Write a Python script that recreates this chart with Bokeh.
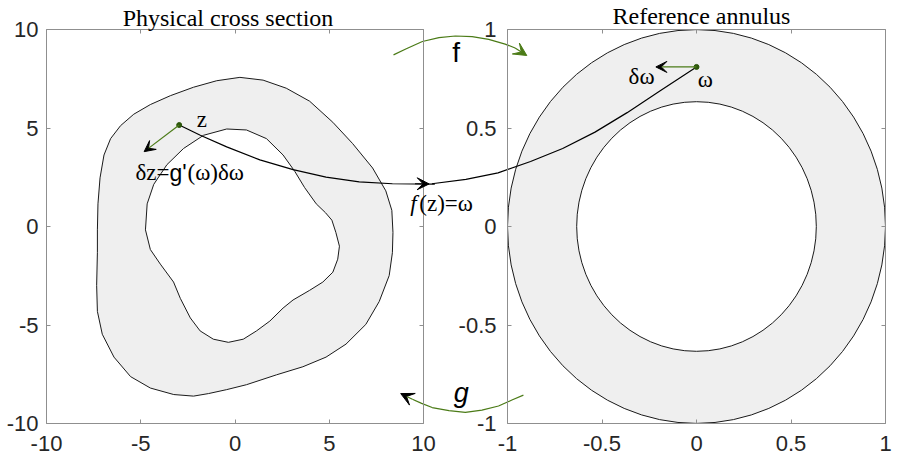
import numpy as np
from bokeh.plotting import figure
from bokeh.models import Range1d, LinearAxis, FixedTicker, Arrow, VeeHead, Label
from bokeh.embed import file_html
from bokeh.resources import INLINE

# ---------------- data ----------------
phys_xlim = [-10, 10]
phys_ylim = [-10, 10]
phys_ticks = [-10, -5, 0, 5, 10]
ref_xlim = [-1, 1]
ref_ylim = [-1, 1]
ref_ticks = [-1, -0.5, 0, 0.5, 1]
titles = ["Physical cross section", "Reference annulus"]

# physical cross-section boundaries (outer and inner)
outer_x = [-7.30, -7.27, -7.16, -6.95, -6.60, -6.07, -5.37, -4.49, -3.43, -2.20,
           -0.97, 0.26, 1.49, 2.72, 3.96, 5.19, 6.24, 7.30, 8.00, 8.32,
           8.38, 8.35, 8.18, 7.65, 6.94, 5.89, 4.83, 3.60, 2.20, 0.61,
           -0.44, -1.40, -2.20, -3.25, -4.49, -5.54, -6.42, -7.04, -7.30, -7.34, -7.30]
outer_y = [-0.17, 1.15, 2.47, 3.63, 4.46, 5.12, 5.70, 6.19, 6.64, 7.07,
           7.40, 7.57, 7.43, 7.02, 6.36, 5.29, 4.21, 2.97, 1.81, 0.82,
           -0.30, -1.33, -2.49, -3.81, -4.97, -5.97, -6.63, -7.12, -7.53, -8.03,
           -8.28, -8.48, -8.61, -8.53, -8.20, -7.62, -6.63, -5.47, -4.31, -2.99, -1.33]
inner_x = [-4.75, -4.66, -4.31, -3.61, -2.73, -1.67, -0.44, 0.61, 1.67, 2.55,
           3.17, 3.69, 4.31, 4.80, 5.14, 5.35, 5.54, 5.45, 5.19, 4.66, 3.96, 3.08,
           2.55, 1.85, 1.14, 0.44, -0.35, -1.15, -1.85, -2.37, -2.90, -3.26,
           -3.96, -4.49]
inner_y = [-0.17, 1.15, 2.14, 3.14, 3.96, 4.63, 4.95, 4.90, 4.46, 3.63,
           2.80, 1.98, 1.15, 0.70, 0.32, -0.30, -1.00, -1.66, -2.32, -2.82, -3.24, -3.73,
           -4.14, -4.80, -5.30, -5.72, -5.88, -5.72, -5.30, -4.64, -3.65, -2.82,
           -1.91, -1.17]

# reference annulus radii
annulus_outer_r = 1.0
annulus_inner_r = 0.634

# points and increments
z_point = [-2.96, 5.15]
dz_tip = [-4.82, 3.80]
w_point = [0.0, 0.81]
dw_tip = [-0.215, 0.81]

# mapping curve f(z)=w : part in physical coords, part in reference coords
map_phys_x = [-2.96, -1.84, -0.44, 1.32, 3.08, 4.83, 6.59, 8.35, 10.6]
map_phys_y = [5.15, 4.63, 4.04, 3.38, 2.89, 2.51, 2.27, 2.17, 2.15]
map_ref_x = [-1.40, -1.22, -1.05, -0.878, -0.708, -0.537, -0.367, -0.196, 0.0]
map_ref_y = [0.217, 0.239, 0.272, 0.330, 0.396, 0.479, 0.578, 0.686, 0.81]
map_head = [[9.55, 2.17], [10.3, 2.16]]

# curved arrows f and g (physical coords)
f_arc_x = [8.41, 9.06, 9.94, 10.82, 11.69, 12.58, 13.46, 14.33, 14.86]
f_arc_y = [8.71, 9.01, 9.39, 9.59, 9.67, 9.64, 9.50, 9.26, 9.06]
f_tip = [15.48, 8.68]
g_arc_x = [15.30, 14.69, 13.98, 13.10, 12.22, 11.35, 10.46, 9.90, 9.41]
g_arc_y = [-8.56, -8.81, -9.11, -9.32, -9.44, -9.35, -9.19, -8.98, -8.77]
g_tip = [8.79, -8.48]

# ---------------- layout (canvas pixels) ----------------
W, H = 893, 457
LX0, LX1 = 46, 423      # left panel box
RX0, RX1 = 507, 885     # right panel box
TY, BY = 29, 423        # top / bottom of both boxes

GREEN = "#4b7b17"
DOT = "#2c560b"
AX = "#8f8f8f"
TXT = "#262626"
SERIF = "Liberation Serif"
SANS = "Liberation Sans"
TICK_FS = "22px"
FS = 23


def full_range(lim, p0, p1, total, flip=False):
    """Range spanning the whole canvas so that lim maps to pixels p0..p1."""
    s = (p1 - p0) / (lim[1] - lim[0])
    if flip:  # vertical: pixel grows downward
        return Range1d(lim[0] - (total - p1) / s, lim[1] + p0 / s)
    return Range1d(lim[0] - p0 / s, lim[1] + (total - p1) / s)


p = figure(width=W, height=H, output_backend="svg", toolbar_location=None,
           x_axis_type=None, y_axis_type=None,
           x_range=full_range(phys_xlim, LX0, LX1, W),
           y_range=full_range(phys_ylim, TY, BY, H, flip=True),
           min_border=0, min_border_left=0, min_border_right=0,
           min_border_top=0, min_border_bottom=0)
p.extra_x_ranges = {"rx": full_range(ref_xlim, RX0, RX1, W)}
p.extra_y_ranges = {"ry": full_range(ref_ylim, TY, BY, H, flip=True)}
p.outline_line_color = None
p.background_fill_color = "white"
p.border_fill_color = "white"


def fmt(t):
    return str(int(t)) if float(t).is_integer() else str(t)


def add_axis(side, xr, yr, loc, ticks, lim, labels, standoff=8):
    ax = LinearAxis(x_range_name=xr, y_range_name=yr, fixed_location=loc,
                    bounds=(lim[0], lim[1]),
                    ticker=FixedTicker(ticks=ticks, minor_ticks=[]),
                    major_label_overrides={t: fmt(t) for t in ticks},
                    axis_line_color=AX, axis_line_width=1,
                    major_tick_line_color=AX, major_tick_in=4, major_tick_out=0,
                    minor_tick_line_color=None,
                    major_label_text_font=SANS, major_label_text_font_size=TICK_FS,
                    major_label_text_color=TXT, major_label_standoff=standoff)
    if not labels:
        ax.major_label_text_alpha = 0
    p.add_layout(ax, side)


# left panel box
add_axis("left", "default", "default", phys_xlim[0], phys_ticks, phys_ylim, True, 8)
add_axis("right", "default", "default", phys_xlim[1], phys_ticks, phys_ylim, False)
add_axis("below", "default", "default", phys_ylim[0], phys_ticks, phys_xlim, True, 12)
add_axis("above", "default", "default", phys_ylim[1], phys_ticks, phys_xlim, False)
# right panel box
add_axis("left", "rx", "ry", ref_xlim[0], ref_ticks, ref_ylim, True, 11)
add_axis("right", "rx", "ry", ref_xlim[1], ref_ticks, ref_ylim, False)
add_axis("below", "rx", "ry", ref_ylim[0], ref_ticks, ref_xlim, True, 12)
add_axis("above", "rx", "ry", ref_ylim[1], ref_ticks, ref_xlim, False)

# physical domain
p.multi_polygons(xs=[[[outer_x, inner_x]]], ys=[[[outer_y, inner_y]]],
                 fill_color="#efefef", line_color="#1a1a1a", line_width=1,
                 line_join="round")

# annulus
p.ellipse(x=[0], y=[0], width=[2 * annulus_outer_r], height=[2 * annulus_outer_r],
          x_range_name="rx", y_range_name="ry",
          fill_color="#efefef", line_color="#1a1a1a", line_width=1)
p.ellipse(x=[0], y=[0], width=[2 * annulus_inner_r], height=[2 * annulus_inner_r],
          x_range_name="rx", y_range_name="ry",
          fill_color="white", line_color="#1a1a1a", line_width=1)

# mapping curve
p.line(map_phys_x, map_phys_y, line_color="black", line_width=1.2, line_join="round")
p.line(map_ref_x, map_ref_y, line_color="black", line_width=1.2, line_join="round",
       x_range_name="rx", y_range_name="ry")
p.add_layout(Arrow(end=VeeHead(size=12, fill_color="black", line_color="black", line_width=1),
                   x_start=map_head[0][0], y_start=map_head[0][1],
                   x_end=map_head[1][0], y_end=map_head[1][1],
                   line_color="black", line_width=1.2))

# delta z arrow
p.add_layout(Arrow(end=VeeHead(size=11, fill_color="black", line_color="black", line_width=1),
                   x_start=z_point[0], y_start=z_point[1], x_end=dz_tip[0], y_end=dz_tip[1],
                   line_color=GREEN, line_width=1.2))
# delta w arrow
p.add_layout(Arrow(end=VeeHead(size=11, fill_color="black", line_color="black", line_width=1),
                   x_start=w_point[0], y_start=w_point[1], x_end=dw_tip[0], y_end=dw_tip[1],
                   line_color=GREEN, line_width=1.2, x_range_name="rx", y_range_name="ry"))

p.scatter([z_point[0]], [z_point[1]], size=5, color=DOT)
p.scatter([w_point[0]], [w_point[1]], size=5, color=DOT, x_range_name="rx", y_range_name="ry")

# curved f and g arrows
p.line(f_arc_x, f_arc_y, line_color=GREEN, line_width=1.2, line_join="round")
p.add_layout(Arrow(end=VeeHead(size=13, fill_color=GREEN, line_color=GREEN, line_width=1),
                   x_start=f_arc_x[-1], y_start=f_arc_y[-1], x_end=f_tip[0], y_end=f_tip[1],
                   line_color=GREEN, line_width=1.2))
p.line(g_arc_x, g_arc_y, line_color=GREEN, line_width=1.2, line_join="round")
p.add_layout(Arrow(end=VeeHead(size=13, fill_color="black", line_color="black", line_width=1),
                   x_start=g_arc_x[-1], y_start=g_arc_y[-1], x_end=g_tip[0], y_end=g_tip[1],
                   line_color=GREEN, line_width=1.2))


def label(x, y, text, font=SERIF, size=FS, style="normal", align="left",
          xr="default", yr="default", xoff=0, yoff=0):
    # Label places the text ~0.35 em below the requested alphabetic baseline; compensate
    comp = 0.35 * size
    p.add_layout(Label(x=x, y=y, text=text, x_range_name=xr, y_range_name=yr,
                       text_font=font, text_font_size=f"{size}px", text_font_style=style,
                       text_color="black", text_align=align, text_baseline="alphabetic",
                       x_offset=xoff, y_offset=yoff + comp))


# titles
label(sum(phys_xlim) / 2, phys_ylim[1], titles[0], size=24, align="center", xoff=-7, yoff=3)
label(sum(ref_xlim) / 2, ref_ylim[1], titles[1], size=24, align="center",
      xr="rx", yr="ry", xoff=5, yoff=5)

# annotations
label(-2.03, 5.15, "z", yoff=-3)
label(-5.28, 2.47, "δz=", yoff=-3)
label(-5.28, 2.47, "g'", font=SANS, xoff=34, yoff=-3)
label(-5.28, 2.47, "(ω)δω", xoff=52, yoff=-3)
label(9.30, 0.92, "f", style="italic", yoff=-3)
label(9.30, 0.92, "(z)=ω", xoff=9, yoff=-3)
label(-0.222, 0.737, "δω", align="right", xr="rx", yr="ry", yoff=-3)
label(0.007, 0.719, "ω", xr="rx", yr="ry", yoff=-3)
label(11.73, 8.35, "f", font=SANS, size=28, align="center")
label(12.0, -8.92, "g", font=SANS, size=27, style="italic", align="center")

open("out.html", "w").write(file_html(p, INLINE))
